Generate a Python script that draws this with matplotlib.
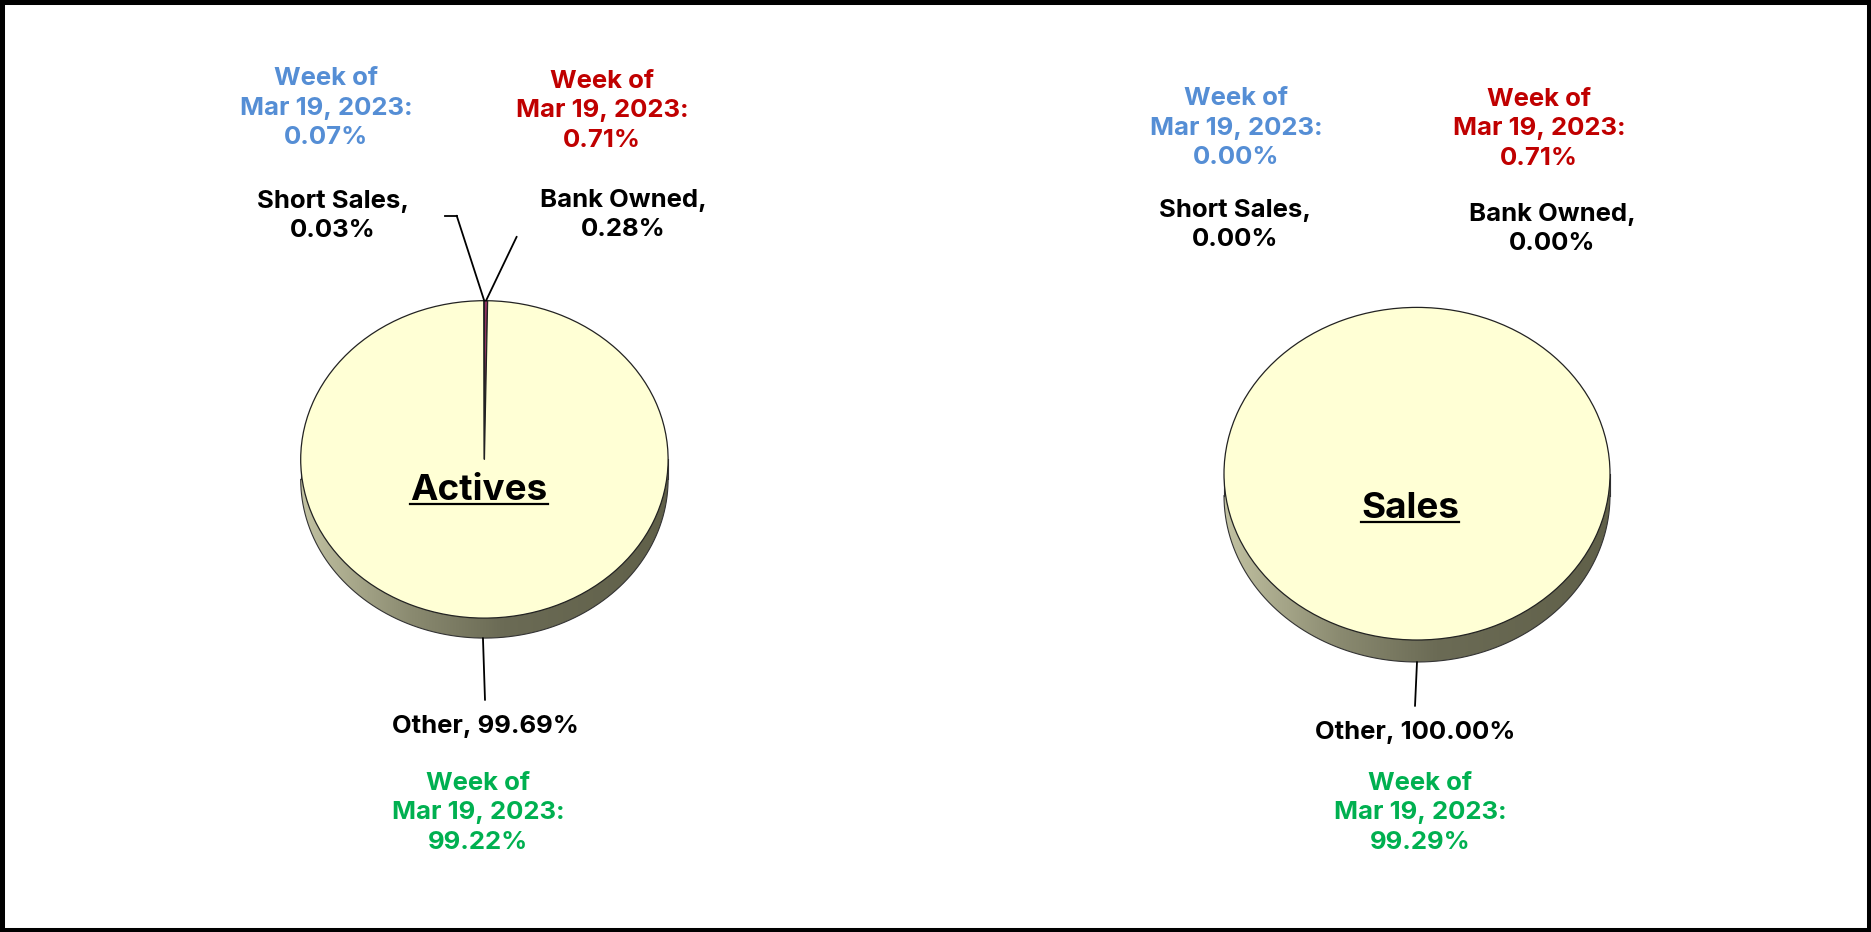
import matplotlib
matplotlib.use('Agg')
import matplotlib.pyplot as plt
import numpy as np
from matplotlib.colors import LinearSegmentedColormap
from matplotlib.patches import Ellipse, Rectangle

# data (pie order: clockwise from 12 o'clock)
pie_labels = ['Bank Owned', 'Other', 'Short Sales']
actives_pct = [0.28, 99.69, 0.03]
sales_pct = [0.00, 100.00, 0.00]
# week-of comparison values
week_label = 'Mar 19, 2023'
actives_week = {'Short Sales': 0.07, 'Bank Owned': 0.71, 'Other': 99.22}
sales_week = {'Short Sales': 0.00, 'Bank Owned': 0.71, 'Other': 99.29}

slice_colors = ['#993366', '#FFFFD5', '#CC6699']
W, H = 1871, 932
FONT = 'Inter'

fig = plt.figure(figsize=(W / 100, H / 100), dpi=100)
fig.patch.set_facecolor('white')

ov = fig.add_axes([0, 0, 1, 1], zorder=5)
ov.set_xlim(0, W)
ov.set_ylim(H, 0)
ov.axis('off')

side_cmap = LinearSegmentedColormap.from_list(
    'side', [(0, '#c2c2a2'), (0.3, '#8a8a70'), (0.55, '#6b6b55'), (1, '#606049')])


def draw_pie(values, cx, cy, a, b, depth):
    m = 6
    ax = fig.add_axes([(cx - a - m) / W, (H - (cy + b + depth + m)) / H,
                       (2 * a + 2 * m) / W, (2 * b + depth + 2 * m) / H])
    dd = depth / b
    # side of the disc with a left-to-right shading
    grad = np.linspace(0, 1, 256).reshape(1, -1)
    clip_e = Ellipse((0, -dd), 2, 2, transform=ax.transData)
    clip_r = Rectangle((-1, -dd), 2, dd, transform=ax.transData)
    for clip in (clip_e, clip_r):
        im = ax.imshow(grad, extent=(-1, 1, -1 - dd, 0), aspect='auto',
                       cmap=side_cmap, zorder=1, interpolation='bilinear')
        im.set_clip_path(clip)
    t = np.linspace(np.pi, 2 * np.pi, 200)
    ax.plot(np.cos(t), np.sin(t) - dd, color='#333333', lw=0.8, zorder=2)
    ax.plot([-1, -1], [0, -dd], color='#333333', lw=0.8, zorder=2)
    ax.plot([1, 1], [0, -dd], color='#333333', lw=0.8, zorder=2)

    wedges, _ = ax.pie(values, colors=slice_colors, startangle=90,
                       counterclock=False,
                       wedgeprops=dict(edgecolor='#222222', linewidth=0.9))
    for w, v in zip(wedges, values):
        w.set_zorder(3)
        if v == 0:
            w.set_linewidth(0)
    ax.set_aspect('auto')
    ax.set_xlim(-1 - m / a, 1 + m / a)
    ax.set_ylim(-1 - (depth + m) / b, 1 + m / b)
    ax.axis('off')

    # mid angles of each wedge, for leader lines
    frac = np.array(values) / np.sum(values)
    ends = np.cumsum(frac)
    mids = 90 - 360 * (ends - frac / 2)
    return ax, dict(zip(pie_labels, np.deg2rad(mids))), dd


def txt(x, y, s, color, size=18.5):
    ov.text(x, y, s, color=color, fontsize=size, fontweight='bold',
            family=FONT, ha='center', va='center', linespacing=1.35)


def week_text(x, y, v, color):
    txt(x, y, 'Week of\n%s:\n%.2f%%' % (week_label, v), color)


def title(x, y, s):
    t = ov.text(x, y, s, color='black', fontsize=26.5, fontweight='bold',
                family=FONT, ha='center', va='center')
    fig.canvas.draw()
    bb = t.get_window_extent().transformed(ov.transData.inverted())
    yb = max(bb.y0, bb.y1) - 3
    ov.plot([bb.x0, bb.x1], [yb, yb], color='black', lw=1.6)


def leader(ax, ang, dd, xytext, bottom=False):
    yy = np.sin(ang) - (dd if bottom else 0)
    ov.annotate('', xy=(np.cos(ang), yy), xycoords=ax.transData,
                xytext=xytext, textcoords='data',
                arrowprops=dict(arrowstyle='-', color='black', lw=1.3,
                                shrinkA=0, shrinkB=0))


# Actives
ax1, ang1, dd1 = draw_pie(actives_pct, 484.4, 459.4, 183.7, 158.7, 20)
week_text(326, 108, actives_week['Short Sales'], '#558ED5')
week_text(602, 111, actives_week['Bank Owned'], '#C00000')
txt(333, 216, 'Short Sales,\n%.2f%%' % actives_pct[2], 'black')
txt(623, 215, 'Bank Owned,\n%.2f%%' % actives_pct[0], 'black')
txt(485, 727, 'Other, %.2f%%' % actives_pct[1], 'black')
week_text(478, 813, actives_week['Other'], '#00B050')
leader(ax1, ang1['Short Sales'], dd1, (456.7, 215.7))
ov.plot([445, 456.7], [215.7, 215.7], color='black', lw=1.3)
leader(ax1, ang1['Bank Owned'], dd1, (516.7, 236.7))
leader(ax1, ang1['Other'], dd1, (485, 700), bottom=True)
title(479, 490, 'Actives')

# Sales
ax2, ang2, dd2 = draw_pie(sales_pct, 1417, 473.7, 193, 166.3, 22)
week_text(1236, 128, sales_week['Short Sales'], '#558ED5')
week_text(1539, 129, sales_week['Bank Owned'], '#C00000')
txt(1235, 225, 'Short Sales,\n%.2f%%' % sales_pct[2], 'black')
txt(1552, 229, 'Bank Owned,\n%.2f%%' % sales_pct[0], 'black')
txt(1415, 732, 'Other, %.2f%%' % sales_pct[1], 'black')
week_text(1420, 813, sales_week['Other'], '#00B050')
leader(ax2, ang2['Other'], dd2, (1415, 706), bottom=True)
title(1410, 508, 'Sales')

# black frame around the picture
fig.patches.append(Rectangle((0, 0), 1, 1, transform=fig.transFigure,
                             fill=False, edgecolor='black', linewidth=6.5,
                             zorder=10))

fig.savefig('out.png', dpi=100)
